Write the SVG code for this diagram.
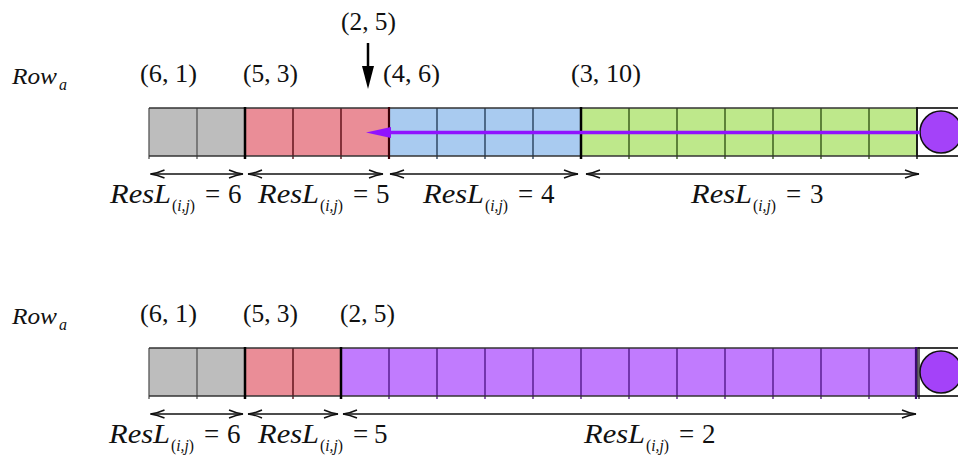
<svg xmlns="http://www.w3.org/2000/svg" width="958" height="455" viewBox="0 0 958 455">
<defs>
<style>
.t{font-family:"Liberation Serif","Times New Roman",serif;fill:#111}
.it{font-style:italic}
.up{font-style:normal}
.big{font-size:27px}
.co{font-size:25px}
.sub{font-size:17px}
.dim{stroke:#111;stroke-width:1.5;fill:none}
.edge{stroke:#333;stroke-width:1.5;fill:none}
.gray{fill:#BDBDBD}
.pink{fill:#EA8D97}
.blue{fill:#A9CBF0}
.green{fill:#BEE88B}
.purp{fill:#C17BFE}
.dg{stroke:#555;stroke-width:1.3}
.dr{stroke:#4d0008;stroke-width:1.3}
.db{stroke:#1d3550;stroke-width:1.3}
.dgr{stroke:#2a4a0e;stroke-width:1.3}
.dp{stroke:#4a1080;stroke-width:1.3}
.sep{stroke:#000;stroke-width:2.5}
.ball{fill:#A442F9;stroke:#111;stroke-width:1.5}
</style>
<marker id="open" viewBox="0 0 16 10" refX="15" refY="5" markerWidth="16" markerHeight="10" markerUnits="userSpaceOnUse" orient="auto-start-reverse">
<path d="M1,1 Q8,4.2 15,5 Q8,5.8 1,9" fill="none" stroke="#111" stroke-width="1.4"/>
</marker>
<g id="resl">
<text class="t it" font-size="28" x="0" y="0" textLength="61" lengthAdjust="spacingAndGlyphs">ResL</text>
<text class="t sub" x="62" y="8" textLength="23" lengthAdjust="spacingAndGlyphs"><tspan class="up">(</tspan><tspan class="it">i,j</tspan><tspan class="up">)</tspan></text>
<text class="t big" x="95" y="0">=</text>
</g>
</defs>
<rect width="958" height="455" fill="#fff"/>

<!-- Top row -->
<g id="row1-label"><text class="t it" font-size="24" x="12" y="84" textLength="45" lengthAdjust="spacingAndGlyphs">Row</text><text class="t it" font-size="16" x="59" y="90">a</text></g>
<g id="row1-coords">
<text class="t co" x="140" y="82" textLength="57" lengthAdjust="spacingAndGlyphs">(6, 1)</text>
<text class="t co" x="243" y="82" textLength="55" lengthAdjust="spacingAndGlyphs">(5, 3)</text>
<text class="t co" x="383" y="82" textLength="57" lengthAdjust="spacingAndGlyphs">(4, 6)</text>
<text class="t co" x="571" y="82" textLength="70" lengthAdjust="spacingAndGlyphs">(3, 10)</text>
<text class="t co" x="341" y="30" textLength="55" lengthAdjust="spacingAndGlyphs">(2, 5)</text>
</g>
<g id="row1-gray">
<rect class="gray" x="149" y="108" width="96" height="48"/>
<line class="dg" x1="197" y1="108" x2="197" y2="159"/>
<line class="dg" x1="149" y1="108" x2="149" y2="159"/>
</g>
<g id="row1-pink">
<rect class="pink" x="245" y="108" width="144" height="48"/>
<line class="dr" x1="293" y1="108" x2="293" y2="159"/>
<line class="dr" x1="341" y1="108" x2="341" y2="159"/>
</g>
<g id="row1-blue">
<rect class="blue" x="389" y="108" width="192" height="48"/>
<line class="db" x1="437" y1="108" x2="437" y2="159"/>
<line class="db" x1="485" y1="108" x2="485" y2="159"/>
<line class="db" x1="533" y1="108" x2="533" y2="159"/>
</g>
<g id="row1-green">
<rect class="green" x="581" y="108" width="336" height="48"/>
<line class="dgr" x1="629" y1="108" x2="629" y2="159"/>
<line class="dgr" x1="677" y1="108" x2="677" y2="159"/>
<line class="dgr" x1="725" y1="108" x2="725" y2="159"/>
<line class="dgr" x1="773" y1="108" x2="773" y2="159"/>
<line class="dgr" x1="821" y1="108" x2="821" y2="159"/>
<line class="dgr" x1="869" y1="108" x2="869" y2="159"/>
</g>
<g id="row1-end">
<rect x="917" y="108" width="48" height="48" fill="#fff" stroke="#111" stroke-width="1.5"/>
<circle class="ball" cx="941" cy="132" r="21"/>
</g>
<g id="row1-edges">
<line class="edge" x1="149" y1="108" x2="958" y2="108"/>
<line class="edge" x1="149" y1="156" x2="958" y2="156"/>
<line class="sep" x1="245" y1="107" x2="245" y2="159"/>
<line stroke="#3a0006" stroke-width="2.2" x1="389" y1="107" x2="389" y2="159"/>
<line class="sep" x1="581" y1="107" x2="581" y2="159"/>
<line stroke="#111" stroke-width="1.5" x1="917" y1="107" x2="917" y2="159"/>
</g>

<!-- Bottom row -->
<g id="row2-label"><text class="t it" font-size="24" x="12" y="324" textLength="45" lengthAdjust="spacingAndGlyphs">Row</text><text class="t it" font-size="16" x="59" y="330">a</text></g>
<g id="row2-coords">
<text class="t co" x="140" y="322" textLength="57" lengthAdjust="spacingAndGlyphs">(6, 1)</text>
<text class="t co" x="243" y="322" textLength="55" lengthAdjust="spacingAndGlyphs">(5, 3)</text>
<text class="t co" x="340" y="322" textLength="55" lengthAdjust="spacingAndGlyphs">(2, 5)</text>
</g>
<g id="row2-gray">
<rect class="gray" x="149" y="348" width="96" height="48"/>
<line class="dg" x1="197" y1="348" x2="197" y2="399"/>
<line class="dg" x1="149" y1="348" x2="149" y2="399"/>
</g>
<g id="row2-pink">
<rect class="pink" x="245" y="348" width="96" height="48"/>
<line class="dr" x1="293" y1="348" x2="293" y2="399"/>
</g>
<g id="row2-purple">
<rect class="purp" x="341" y="348" width="576" height="48"/>
<line class="dp" x1="389" y1="348" x2="389" y2="399"/>
<line class="dp" x1="437" y1="348" x2="437" y2="399"/>
<line class="dp" x1="485" y1="348" x2="485" y2="399"/>
<line class="dp" x1="533" y1="348" x2="533" y2="399"/>
<line class="dp" x1="581" y1="348" x2="581" y2="399"/>
<line class="dp" x1="629" y1="348" x2="629" y2="399"/>
<line class="dp" x1="677" y1="348" x2="677" y2="399"/>
<line class="dp" x1="725" y1="348" x2="725" y2="399"/>
<line class="dp" x1="773" y1="348" x2="773" y2="399"/>
<line class="dp" x1="821" y1="348" x2="821" y2="399"/>
<line class="dp" x1="869" y1="348" x2="869" y2="399"/>
</g>
<g id="row2-end">
<rect x="917" y="348" width="48" height="48" fill="#fff" stroke="#111" stroke-width="1.5"/>
<circle class="ball" cx="941" cy="372" r="21"/>
</g>
<g id="row2-edges">
<line class="edge" x1="149" y1="348" x2="958" y2="348"/>
<line class="edge" x1="149" y1="396" x2="958" y2="396"/>
<line class="sep" x1="245" y1="347" x2="245" y2="399"/>
<line class="sep" x1="341" y1="347" x2="341" y2="399"/>
<line stroke="#3a0a70" stroke-width="2.2" x1="916" y1="347" x2="916" y2="399"/>
<line stroke="#111" stroke-width="1.3" x1="919" y1="347" x2="919" y2="399"/>
</g>

<!-- Connectors -->
<g id="connectors">
<line x1="368" y1="43" x2="368" y2="68" stroke="#000" stroke-width="2.5"/>
<polygon points="362,66 374,66 368,89" fill="#000"/>
<line x1="920" y1="132.5" x2="388" y2="132.5" stroke="#9013FE" stroke-width="3.5"/>
<polygon points="366,132.5 391,127 391,138" fill="#9013FE"/>
<line class="dim" x1="150.5" y1="174" x2="243" y2="174" marker-start="url(#open)" marker-end="url(#open)"/>
<line class="dim" x1="248" y1="174" x2="383" y2="174" marker-start="url(#open)" marker-end="url(#open)"/>
<line class="dim" x1="390" y1="174" x2="578" y2="174" marker-start="url(#open)" marker-end="url(#open)"/>
<line class="dim" x1="586" y1="174" x2="919" y2="174" marker-start="url(#open)" marker-end="url(#open)"/>
<line class="dim" x1="150.5" y1="414" x2="243" y2="414" marker-start="url(#open)" marker-end="url(#open)"/>
<line class="dim" x1="248" y1="414" x2="338" y2="414" marker-start="url(#open)" marker-end="url(#open)"/>
<line class="dim" x1="343" y1="414" x2="916" y2="414" marker-start="url(#open)" marker-end="url(#open)"/>
</g>

<!-- Dimension labels -->
<g id="dim-labels">
<use href="#resl" x="110" y="203"/><text class="t big" x="228" y="203">6</text>
<use href="#resl" x="258" y="203"/><text class="t big" x="376" y="203">5</text>
<use href="#resl" x="423" y="203"/><text class="t big" x="541" y="203">4</text>
<use href="#resl" x="691" y="203"/><text class="t big" x="810" y="203">3</text>
<use href="#resl" x="109" y="443"/><text class="t big" x="227" y="443">6</text>
<use href="#resl" x="258" y="443"/><text class="t big" x="374" y="443">5</text>
<use href="#resl" x="584" y="443"/><text class="t big" x="702" y="443">2</text>
</g>
</svg>
